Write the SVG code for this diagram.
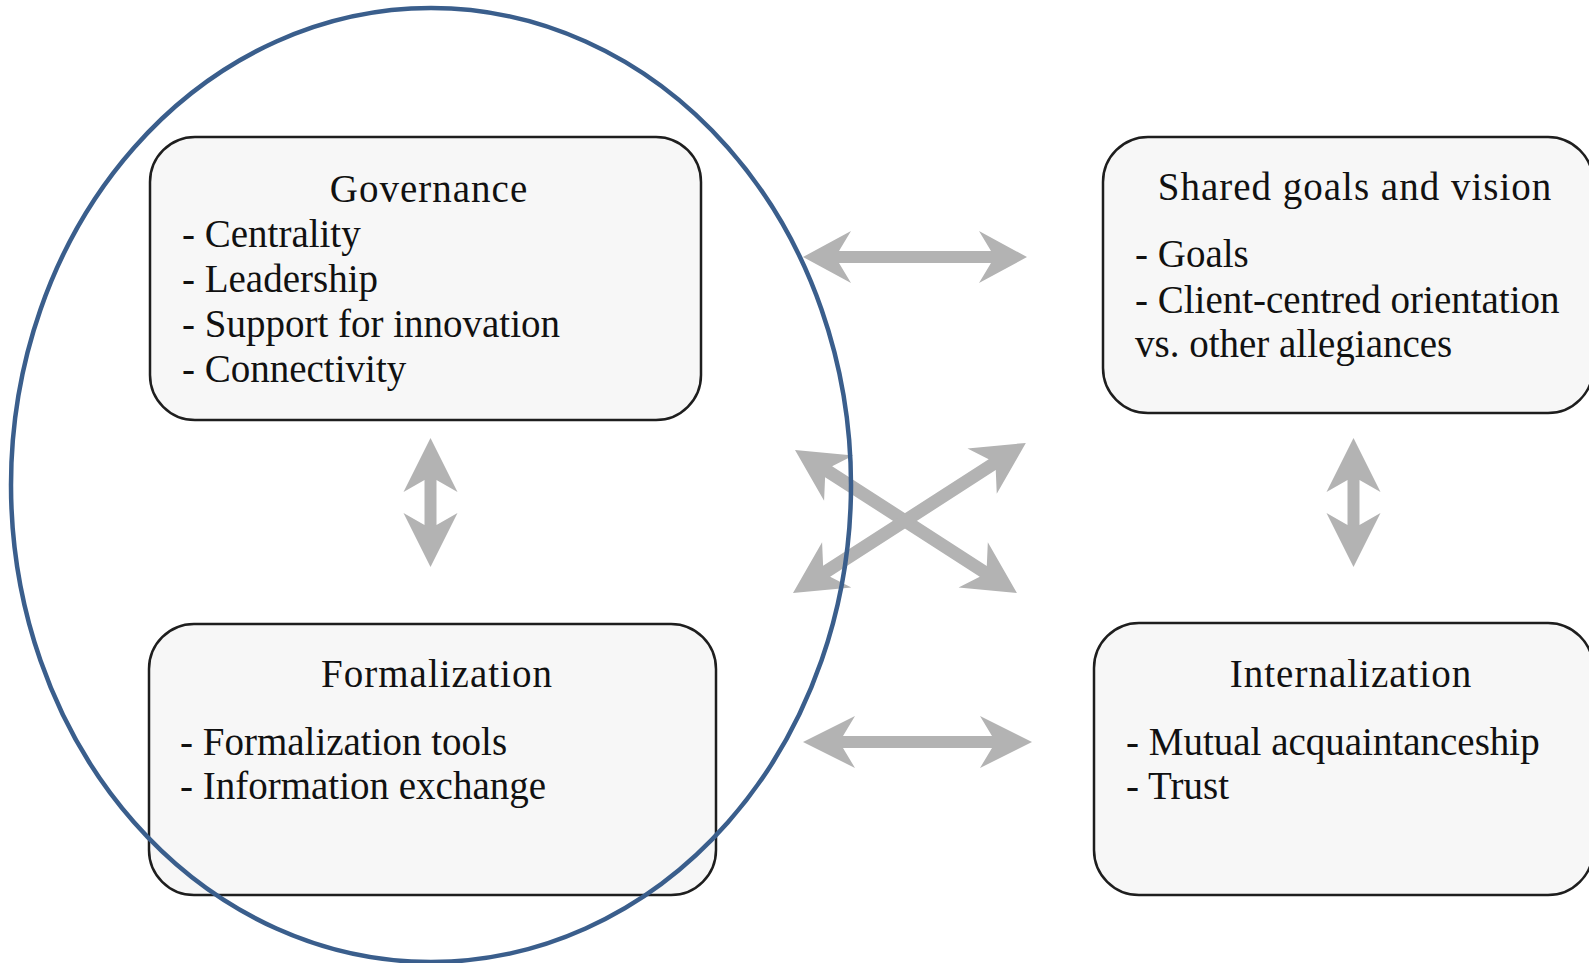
<svg xmlns="http://www.w3.org/2000/svg" width="1589" height="963" viewBox="0 0 1589 963">
<style>
.box{fill:#f7f7f7;stroke:#1e1e1e;stroke-width:2.5}
.t{font-family:"Liberation Serif","Times New Roman",serif;font-size:39px;fill:#111}
.title{text-anchor:middle;letter-spacing:1px}
.arrow{fill:#b3b3b3;stroke:none}
.ring{fill:none;stroke:#3a5e8c;stroke-width:4.5}
</style>
<rect width="1589" height="963" fill="#ffffff"/>
<g id="connectors">
<path class="arrow" transform="translate(803,257)" d="M0,0 L48,-26 L36,-6 L188,-6 L176,-26 L224,0 L176,26 L188,6 L36,6 L48,26 Z"/>
<path class="arrow" transform="translate(803,742)" d="M0,0 L52,-26 L40,-6 L189,-6 L177,-26 L229,0 L177,26 L189,6 L40,6 L52,26 Z"/>
<path class="arrow" transform="translate(430.5,438) rotate(90)" d="M0,0 L54,-27 L42,-6 L87,-6 L75,-27 L129,0 L75,27 L87,6 L42,6 L54,27 Z"/>
<path class="arrow" transform="translate(1353.5,438) rotate(90)" d="M0,0 L54,-27 L42,-6 L87,-6 L75,-27 L129,0 L75,27 L87,6 L42,6 L54,27 Z"/>
<path class="arrow" transform="translate(795,450) rotate(32.8)" d="M0,0 L52,-27 L40,-6.5 L224,-6.5 L212,-27 L264,0 L212,27 L224,6.5 L40,6.5 L52,27 Z"/>
<path class="arrow" transform="translate(793,593) rotate(-32.8)" d="M0,0 L52,-27 L40,-6.5 L237,-6.5 L225,-27 L277,0 L225,27 L237,6.5 L40,6.5 L52,27 Z"/>
</g>
<g id="governance">
<rect class="box" x="150" y="137" width="551" height="283" rx="45" ry="45"/>
<text class="t title" x="429" y="202">Governance</text>
<text class="t" x="182" y="247">- Centrality</text>
<text class="t" x="182" y="292">- Leadership</text>
<text class="t" x="182" y="337">- Support for innovation</text>
<text class="t" x="182" y="382">- Connectivity</text>
</g>
<g id="formalization">
<rect class="box" x="149" y="624" width="567" height="271" rx="45" ry="45"/>
<text class="t title" x="437" y="687">Formalization</text>
<text class="t" x="180" y="755">- Formalization tools</text>
<text class="t" x="180" y="799">- Information exchange</text>
</g>
<g id="shared">
<rect class="box" x="1103" y="137" width="490" height="276" rx="45" ry="45"/>
<text class="t title" x="1355" y="200">Shared goals and vision</text>
<text class="t" x="1135" y="267">- Goals</text>
<text class="t" x="1135" y="313">- Client-centred orientation</text>
<text class="t" x="1135" y="357">vs. other allegiances</text>
</g>
<g id="internalization">
<rect class="box" x="1094" y="623" width="499" height="272" rx="45" ry="45"/>
<text class="t title" x="1351" y="687">Internalization</text>
<text class="t" x="1126" y="755">- Mutual acquaintanceship</text>
<text class="t" x="1126" y="799">- Trust</text>
</g>
<g id="group-ring">
<ellipse class="ring" cx="431" cy="485" rx="420" ry="477"/>
</g>
</svg>
